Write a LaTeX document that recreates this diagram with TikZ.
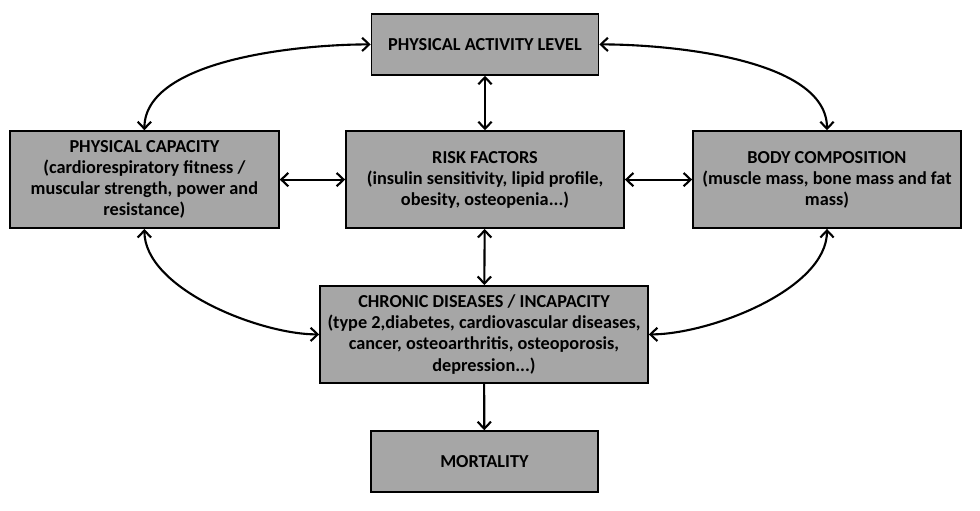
\documentclass[tikz,border=0pt]{standalone}
\usepackage{fontspec}
\setmainfont{Carlito}
\usetikzlibrary{arrows.meta}

\begin{document}
\begin{tikzpicture}[
    box/.style={draw=black,line width=1.2pt,fill=gray!70,align=center,
      font=\bfseries\fontsize{13}{15}\selectfont,inner sep=2pt},
    link/.style={line width=1.5pt,{Straight Barb[length=5pt,width=9.5pt]}-{Straight Barb[length=5pt,width=9.5pt]}},
    oneway/.style={line width=1.5pt,-{Straight Barb[length=5pt,width=9.5pt]}}
  ]
            \useasboundingbox (0,0) rectangle (24.5,12.75);

            \node[box,minimum width=5.675cm,minimum height=1.525cm] (pal) at (12.125,11.64) {PHYSICAL ACTIVITY LEVEL};
            \node[box,minimum width=6.725cm,minimum height=2.425cm] (pc) at (3.61,8.26)
                {PHYSICAL CAPACITY\\(cardiorespiratory fitness /\\muscular strength, power and\\resistance)};
            \node[box,minimum width=6.95cm,minimum height=2.425cm] (rf) at (12.125,8.26)
                {RISK FACTORS\\(insulin sensitivity, lipid profile,\\obesity, osteopenia.{}.{}.)};
            \node[box,minimum width=6.7cm,minimum height=2.425cm] (bc) at (20.675,8.26)
                {BODY COMPOSITION\\(muscle mass, bone mass and fat\\mass)};
            \node[box,minimum width=8.2cm,minimum height=2.425cm] (cd) at (12.1,4.39)
                {CHRONIC DISEASES / INCAPACITY\\(type 2,diabetes, cardiovascular diseases,\\cancer, osteoarthritis, osteoporosis,\\depression.{}.{}.)};
            \node[box,minimum width=5.675cm,minimum height=1.525cm] (mo) at (12.11,1.21) {MORTALITY};

            \draw[link] (pal.west) to[out=180,in=90,looseness=0.75] (pc.north);
            \draw[link] (pal.east) to[out=0,in=90,looseness=0.75] (bc.north);
            \draw[link] (pc.south) to[out=-90,in=180,looseness=0.75] (cd.west);
            \draw[link] (bc.south) to[out=-90,in=0,looseness=0.75] (cd.east);
%             straight links
            \draw[link] (pal) -- (rf);
            \draw[link] (pc) -- (rf);
            \draw[link] (rf) -- (bc);
            \draw[link] (rf) -- (cd);
            \draw[oneway] (cd) -- (mo);
        \end{tikzpicture}
\end{document}
